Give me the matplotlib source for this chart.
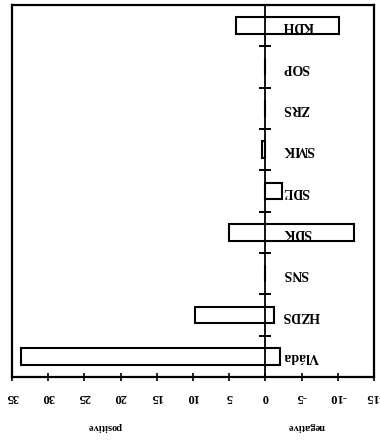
import matplotlib
matplotlib.use("Agg")
import matplotlib.pyplot as plt

# Categories (top to bottom as shown; the figure is printed upside down)
categories = ["KDH", "SOP", "ZRS", "SMK", "SDĽ", "SDK", "SNS", "HZDS", "Vláda"]
positive_end = [4.0, 0.0, 0.0, 0.5, 0.0, 5.0, 0.0, 9.7, 33.8]
negative_end = [-10.2, 0.0, 0.0, 0.0, -2.3, -12.3, 0.0, -1.2, -2.0]
xticks = [35, 30, 25, 20, 15, 10, 5, 0, -5, -10, -15]

plt.rcParams['font.family'] = ['Liberation Serif', 'DejaVu Serif']

W, H = 380, 440
fig = plt.figure(figsize=(W / 100, H / 100), dpi=100)
ax = fig.add_axes([12 / W, 1 - 377 / H, 362 / W, 372 / H])

ypos = list(range(len(categories)))
widths = [n - p for p, n in zip(positive_end, negative_end)]
ax.barh(ypos, widths, left=positive_end, height=0.4,
        facecolor='white', edgecolor='black', linewidth=1.5, zorder=3)

ax.set_xlim(35, -15)
ax.set_ylim(len(categories) - 0.5, -0.5)
ax.set_xticks(xticks)
ax.set_xticklabels([str(t) for t in xticks], rotation=180, fontsize=9,
                   fontweight='bold')
ax.tick_params(axis='x', direction='inout', length=6, width=1.2, pad=7)
ax.set_yticks([])
for s in ax.spines.values():
    s.set_linewidth(1.6)

# zero line with boundary ticks
ax2 = ax.twinx()
ax2.set_ylim(ax.get_ylim())
for name in ['left', 'top', 'bottom']:
    ax2.spines[name].set_visible(False)
ax2.spines['right'].set_position(('data', 0))
ax2.spines['right'].set_linewidth(1.3)
ax2.set_yticks([i + 0.5 for i in range(len(categories) - 1)])
ax2.set_yticklabels([])
ax2.tick_params(axis='y', direction='inout', length=8, width=1.4)

# category labels (upside down)
for i, c in enumerate(categories):
    ax.text(-2.4, i, c, rotation=180, ha='left', va='center', fontsize=10,
            fontweight='bold', zorder=5)

fig.text(105 / W, 1 - 426 / H, "positive", rotation=180, ha='center',
         va='center', fontsize=7.5, fontweight='bold')
fig.text(306 / W, 1 - 426 / H, "negative", rotation=180, ha='center',
         va='center', fontsize=7.5, fontweight='bold')

fig.savefig("out.png", dpi=100)
